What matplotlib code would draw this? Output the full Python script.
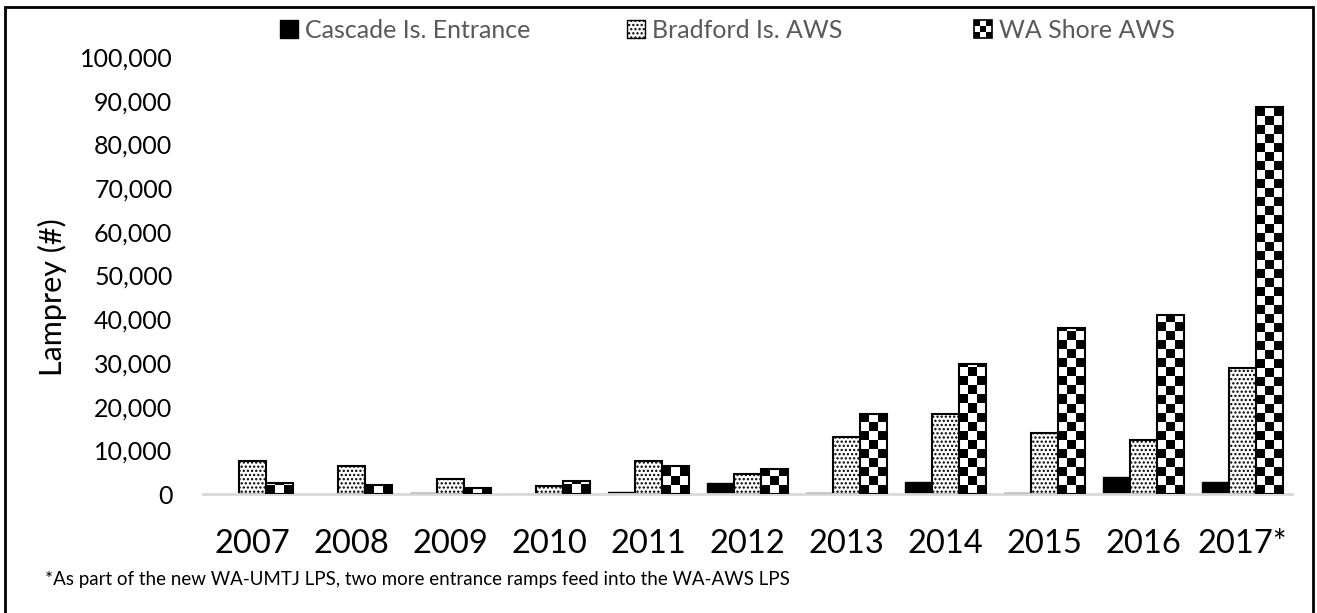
import numpy as np
import matplotlib.pyplot as plt
from matplotlib.patches import Rectangle
from matplotlib.legend_handler import HandlerBase
from matplotlib.ticker import FuncFormatter

years = ['2007', '2008', '2009', '2010', '2011', '2012', '2013', '2014', '2015', '2016', '2017*']
cascade = [0, 0, 150, 100, 400, 2600, 200, 2800, 200, 3800, 2800]
bradford = [7500, 6400, 3400, 1900, 7500, 4500, 13000, 18400, 14000, 12300, 28800]
wa_shore = [2600, 2000, 1300, 3000, 6400, 5800, 18300, 29800, 38000, 41000, 88500]
series_names = ['Cascade Is. Entrance', 'Bradford Is. AWS', 'WA Shore AWS']
footnote = '*As part of the new WA-UMTJ LPS, two more entrance ramps feed into the WA-AWS LPS'

plt.rcParams['font.family'] = ['Lato', 'DejaVu Sans']
plt.rcParams['hatch.linewidth'] = 1.1

W, H = 1317, 613
fig = plt.figure(figsize=(W / 100, H / 100), dpi=100)
ax = fig.add_axes([203 / W, 1 - 494 / H, (1292 - 203) / W, (494 - 57) / H])

x = np.arange(len(years))
w = 0.27
ymax = 100000

ax.bar(x - w, cascade, w, color='black',
       edgecolor=['black' if v > 0 else 'none' for v in cascade], linewidth=1)
ax.bar(x, bradford, w, facecolor='white', edgecolor='black', hatch='....', linewidth=1.5)
wa_bars = ax.bar(x + w, wa_shore, w, facecolor='none', edgecolor='black', linewidth=1.5, zorder=3)

# checkerboard fill for the WA Shore bars, 9 px cells, 3 across
ax_h_px = (494 - 57)
cell_y = 9 * ymax / ax_h_px
for bar in wa_bars:
    x0, h = bar.get_x(), bar.get_height()
    nrows = int(np.ceil(h / cell_y)) + 1
    board = np.add.outer(np.arange(nrows), np.arange(3)) % 2
    img = ax.imshow(board, cmap='gray', interpolation='nearest', aspect='auto',
                    origin='lower', extent=(x0, x0 + w, 0, nrows * cell_y), zorder=2)
    img.set_clip_path(bar)

ax.set_xlim(-0.5, len(years) - 0.5)
ax.set_ylim(0, ymax)
ax.set_yticks(np.arange(0, ymax + 1, 10000))
ax.yaxis.set_major_formatter(FuncFormatter(lambda v, p: f'{int(v):,}'))
ax.set_xticks(x)
ax.set_xticklabels(years)
ax.tick_params(axis='y', length=0, labelsize=18, pad=22)
ax.tick_params(axis='x', length=0, labelsize=23.5, pad=25)
for s in ['top', 'right', 'left']:
    ax.spines[s].set_visible(False)
ax.spines['bottom'].set_color('#d9d9d9')
ax.spines['bottom'].set_linewidth(2)

fig.text(52 / W, 1 - 297 / H, 'Lamprey (#)', rotation=90, ha='center', va='center', fontsize=22)
fig.text(45 / W, 1 - 580 / H, footnote, ha='left', va='center', fontsize=13.5)


class CheckerHandler(HandlerBase):
    def create_artists(self, legend, orig_handle, xdescent, ydescent, width, height, fontsize, trans):
        arts = [Rectangle((-xdescent, -ydescent), width, height, facecolor='white',
                          edgecolor='black', linewidth=1.2, transform=trans)]
        n = 3
        cw, ch = width / n, height / n
        for i in range(n):
            for j in range(n):
                if (i + j) % 2 == 0:
                    arts.append(Rectangle((-xdescent + j * cw, -ydescent + i * ch), cw, ch,
                                          facecolor='black', edgecolor='none', transform=trans))
        return arts


handles = [Rectangle((0, 0), 1, 1, facecolor='black', edgecolor='black'),
           Rectangle((0, 0), 1, 1, facecolor='white', edgecolor='black', hatch='....', linewidth=1),
           Rectangle((0, 0), 1, 1, facecolor='white', edgecolor='black')]
legend_x = [280, 627, 974]
for hnd, name, lx in zip(handles, series_names, legend_x):
    leg = fig.legend([hnd], [name], loc='center left', bbox_to_anchor=(lx / W, 1 - 30 / H),
                     frameon=False, fontsize=18, borderpad=0, borderaxespad=0,
                     handlelength=0.7, handleheight=0.7, handletextpad=0.3,
                     handler_map={handles[2]: CheckerHandler()})
    for t in leg.get_texts():
        t.set_color('#595959')

fig.patches.append(Rectangle((5 / W, -0.02), (1313 - 5) / W, 1 - 7 / H + 0.02, fill=False,
                             edgecolor='black', linewidth=2, transform=fig.transFigure))

fig.savefig('out.png', dpi=100)
